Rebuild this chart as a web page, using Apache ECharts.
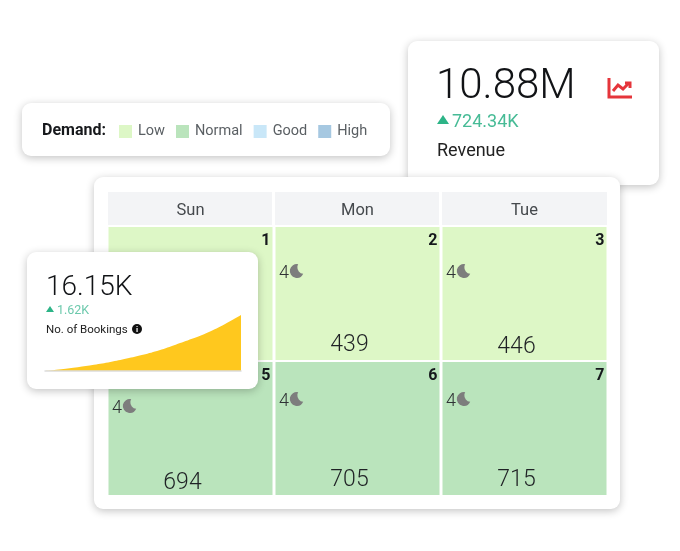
<!DOCTYPE html>
<html><head><meta charset="utf-8">
<style>html,body{margin:0;padding:0;background:#fff}#c{width:680px;height:551px}</style>
<script src="https://cdn.jsdelivr.net/npm/echarts@6/dist/echarts.min.js"></script></head>
<body><div id="c"></div>
<script>
const weekdays = ['Sun','Mon','Tue'];
const weeks = ['Week 1','Week 2'];
const demandLevels = ['Low','Normal','Good','High'];
const demandColors = ['#DDF7C6','#BAE4BC','#C9E7F8','#A6C8E1'];
const dayNumbers = [[1,2,3],[5,6,7]];
const nights = [[4,4,4],[4,4,4]];
const bookings = [[428,439,446],[694,705,715]];
const demandByCell = [['Low','Low','Low'],['Normal','Normal','Normal']];
const sparkValues = [0,0.5,1.1,1.8,2.6,3.6,4.7,6.0,7.6,9.3,11.2,13.5,16.15];
const valueNudge = [[0,0,2],[3,0,0]];
const nightsNudge = [[0,0,0],[0,-7,-7]];

const FONT = 'Roboto';
const moon = 'M9 0.3A7 7 0 1 0 14 10A6.5 6.5 0 0 1 9 0.3Z';

function renderCell(params, api){
  const col = api.value(0), row = api.value(1);
  const c = api.coord([col,row]), s = api.size([1,1]);
  const x0 = c[0]-s[0]/2, y0 = c[1]-s[1]/2, ny = nightsNudge[row][col];
  return {type:'group',children:[
    {type:'rect',shape:{x:x0+1.5,y:y0+1,width:s[0]-3,height:s[1]-2},style:{fill:api.style().fill}},
    {type:'text',style:{text:String(api.value(2)),x:x0+s[0]-3.5,y:y0+15,align:'right',verticalAlign:'middle',font:'bold 16px '+FONT,fill:'#15181c'}},
    {type:'text',style:{text:String(api.value(3)),x:x0+5,y:y0+47+ny,align:'left',verticalAlign:'middle',font:'300 18px '+FONT,fill:'#2f3235'}},
    {type:'path',shape:{pathData:moon,x:x0+15.5,y:y0+38+ny,width:14,height:14,layout:'center'},style:{fill:'#7d7d7d'}},
    {type:'text',style:{text:String(api.value(4)),x:x0+s[0]/2-8,y:y0+119+valueNudge[row][col],align:'center',verticalAlign:'middle',font:'300 23px '+FONT,fill:'#1f2225'}}
  ]};
}
const cellsFor = lvl => {
  const out=[];
  demandByCell.forEach((r,ri)=>r.forEach((d,ci)=>{
    if(d===lvl) out.push([ci,ri,dayNumbers[ri][ci],nights[ri][ci],bookings[ri][ci]]);
  }));
  return out;
};
const card = (x,y,w,h,z)=>({type:'rect',z,shape:{x,y,width:w,height:h,r:9},
  style:{fill:'#fff',shadowBlur:9,shadowOffsetY:2,shadowColor:'rgba(0,0,0,0.24)'}});
const txt = (text,x,y,font,fill,z,align)=>({type:'text',z,style:{text,x,y,font:font+' '+FONT,fill,align:align||'left',verticalAlign:'middle'}});
const tri = (x,y,w,h,z)=>({type:'polygon',z,shape:{points:[[x,y+h],[x+w,y+h],[x+w/2,y]]},style:{fill:'#2DB487'}});
const stroke = (points,z)=>({type:'polyline',z,shape:{points},style:{fill:'none',stroke:'#E5353B',lineWidth:3}});

const graphics = [
  card(408,41,251,144,1),
  txt('10.88M',436,87,'300 42px','#111316',2),
  tri(437,115,12,9,2),
  txt('724.34K',452,122,'18px','#47BB96',2),
  txt('Revenue',437,151,'18px','#222',2),
  stroke([[609,78],[609,97],[632,97]],2),
  stroke([[613,91],[618,85],[623,89],[629,83]],2),
  stroke([[625,83],[630,83],[630,88]],2),
  card(22,103,368,53,1),
  txt('Demand:',42,131,'bold 16px','#17191c',2),
  card(94,177,526,332,3),
  ...weekdays.map((d,i)=>({type:'rect',z:3,shape:{x:108+i*167,y:192,width:164+(i==2?1:0),height:33},style:{fill:'#F3F4F6'}})),
  card(27,252,231,137,6),
  txt('16.15K',46,288,'300 28px','#111316',7),
  tri(46,306,8,6,7),
  txt('1.62K',57,311,'12.5px','#6CC9AC',7),
  txt('No. of Bookings',46,330,'11.5px','#222',7),
  {type:'circle',z:7,shape:{cx:137,cy:329,r:5},style:{fill:'#111'}},
  txt('i',137,330,'bold 8px','#fff',8,'center')
];

const option = {
  animation:false,
  backgroundColor:'#fff',
  textStyle:{fontFamily:FONT},
  graphic:{elements:graphics},
  legend:{z:5,left:114,top:119,icon:'rect',itemWidth:13,itemHeight:13,itemGap:11,selectedMode:false,
    data:demandLevels,textStyle:{fontFamily:FONT,fontSize:14.5,color:'#5a5f63',padding:[0,0,0,1]}},
  grid:[
    {left:107,top:226,width:501,height:270,show:false},
    {left:45,top:315,width:196,height:56,show:false}
  ],
  xAxis:[
    {gridIndex:0,type:'category',data:weekdays,position:'top',z:4,axisLine:{show:false},axisTick:{show:false},
      axisLabel:{margin:7,fontSize:16.5,color:'#45494d',fontFamily:FONT}},
    {gridIndex:1,type:'category',boundaryGap:false,data:sparkValues.map((_,i)=>i),z:8,offset:1.5,
      axisLine:{show:true,lineStyle:{color:'#dcdcdc',width:1.5}},axisTick:{show:false},axisLabel:{show:false}}
  ],
  yAxis:[
    {gridIndex:0,type:'category',data:weeks,inverse:true,show:false},
    {gridIndex:1,type:'value',min:0,max:16.15,show:false}
  ],
  series:[
    ...demandLevels.map((lvl,i)=>({
      name:lvl,type:'custom',xAxisIndex:0,yAxisIndex:0,z:4,renderItem:renderCell,
      itemStyle:{color:demandColors[i]},data:cellsFor(lvl),silent:true
    })),
    {type:'line',xAxisIndex:1,yAxisIndex:1,z:8,data:sparkValues,smooth:0.4,symbol:'none',
      lineStyle:{width:0},areaStyle:{color:'#FFC81E',opacity:1}}
  ]
};
echarts.init(document.getElementById('c'),null,{renderer:'canvas'}).setOption(option);
</script></body></html>
